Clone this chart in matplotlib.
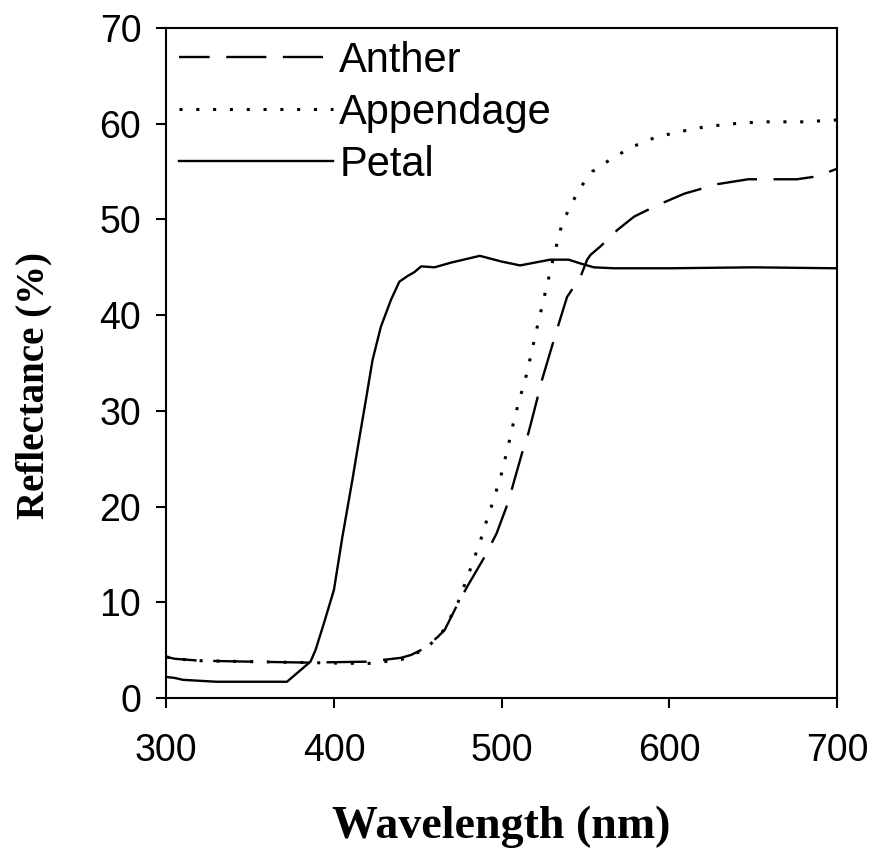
"""
Reflectance spectra of anther, appendage and petal.

Output:
- out.png
"""

import matplotlib
matplotlib.use("Agg")
import matplotlib.pyplot as plt


OUTPUT_FIGURE = "out.png"

# values
PETAL_WL = [300, 305, 310, 330, 372, 380, 386, 389, 394, 400, 405, 411, 415,
            419, 423, 428, 434, 439, 444, 448, 452, 460, 470, 487, 500, 511,
            520, 529, 540, 547, 555, 567, 600, 650, 700]
PETAL_R = [2.2, 2.1, 1.9, 1.7, 1.7, 2.9, 3.8, 5.0, 7.8, 11.3, 16.8, 22.8, 27.0,
           31.1, 35.3, 38.8, 41.6, 43.5, 44.1, 44.5, 45.1, 45.0, 45.5, 46.2, 45.6, 45.2,
           45.5, 45.8, 45.8, 45.4, 45.0, 44.9, 44.9, 45.0, 44.9]

ANTHER_WL = [300, 305, 320, 350, 385, 420, 440, 446, 454, 462, 466, 474, 480,
             490, 497, 504, 507, 513, 516, 521, 524, 533, 539, 547, 551, 553,
             559, 569, 579, 593, 609, 629, 647, 676, 688, 700]
ANTHER_R = [4.3, 4.1, 3.9, 3.8, 3.7, 3.8, 4.2, 4.5, 5.2, 6.4, 7.1, 9.9, 11.8,
            14.8, 17.2, 20.5, 22.4, 26.1, 27.7, 31.1, 33.2, 38.5, 41.9, 44.0, 45.8, 46.3,
            47.2, 48.9, 50.3, 51.5, 52.7, 53.7, 54.2, 54.2, 54.5, 55.3]

APPENDAGE_WL = [300, 305, 320, 350, 385, 420, 440, 446, 454, 462, 466, 474, 480,
                487.5, 489.5, 495, 500, 504, 508, 515, 521, 525, 531, 535, 538,
                542, 546, 554, 566, 578, 592, 607, 622, 638, 655, 680, 700]
APPENDAGE_R = [4.3, 4.1, 3.9, 3.8, 3.7, 3.6, 4.0, 4.5, 5.0, 6.4, 7.2, 10.0, 12.8,
               16.5, 17.7, 20.6, 23.5, 26.4, 29.5, 33.9, 38.6, 41.6, 46.1, 48.9, 50.3,
               51.7, 53.1, 55.0, 56.4, 57.6, 58.6, 59.2, 59.7, 60.0, 60.2, 60.2, 60.4]

X_TICKS = [300, 400, 500, 600, 700]
Y_TICKS = [0, 10, 20, 30, 40, 50, 60, 70]


def main():
    plt.rcParams["font.family"] = ["Liberation Sans", "DejaVu Sans"]

    fig = plt.figure(figsize=(8.75, 8.55), dpi=100)
    ax = fig.add_axes([0.19, 0.1836, 0.7666, 0.7836])

    ax.plot(ANTHER_WL, ANTHER_R, color="black", lw=1.7,
            linestyle=(4, (17, 7)), label="Anther")
    ax.plot(APPENDAGE_WL, APPENDAGE_R, color="black", lw=2.2,
            linestyle=(0, (1, 4.5)), label="Appendage")
    ax.plot(PETAL_WL, PETAL_R, color="black", lw=1.7,
            linestyle="-", label="Petal")

    ax.set_xlim(300, 700)
    ax.set_ylim(0, 70)
    ax.set_xticks(X_TICKS)
    ax.set_yticks(Y_TICKS)

    for spine in ax.spines.values():
        spine.set_linewidth(1.5)

    ax.tick_params(axis="both", direction="out", length=7, width=1.5,
                   labelsize=27, top=False, right=False)
    ax.tick_params(axis="x", pad=18)
    ax.tick_params(axis="y", pad=11)

    ax.set_xlabel("Wavelength (nm)", family="Liberation Serif",
                  fontweight="bold", fontsize=33)
    ax.set_ylabel("Reflectance (%)", family="Liberation Serif",
                  fontweight="bold", fontsize=28)
    ax.xaxis.set_label_coords(0.5, -0.16)
    ax.yaxis.set_label_coords(-0.17, 0.467)

    ax.legend(loc="upper left", bbox_to_anchor=(0.0, 1.0), frameon=False,
              fontsize=30, handlelength=3.7, handletextpad=0.15,
              labelspacing=0.29, borderaxespad=0.1, borderpad=0.2)

    fig.savefig(OUTPUT_FIGURE, dpi=100)
    plt.close(fig)


if __name__ == "__main__":
    main()
